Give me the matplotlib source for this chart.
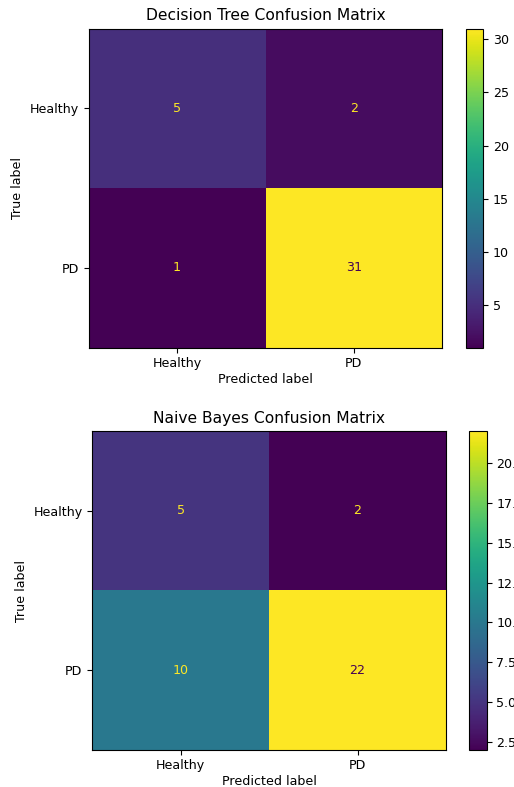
import numpy as np
import matplotlib.pyplot as plt

W, H = 514, 787
FS = 9.1

labels = ["Healthy", "PD"]
dt_matrix = [[5, 2], [1, 31]]
nb_matrix = [[5, 2], [10, 22]]
titles = ["Decision Tree Confusion Matrix", "Naive Bayes Confusion Matrix"]


def px_box(left, top, right, bottom):
    return [left / W, 1 - bottom / H, (right - left) / W, (bottom - top) / H]


def draw_cm(fig, cm, title, ax_box, cb_box):
    cm = np.array(cm)
    ax = fig.add_axes(px_box(*ax_box))
    cax = fig.add_axes(px_box(*cb_box))
    cmap = plt.get_cmap("viridis")
    im = ax.imshow(cm, cmap=cmap, aspect="auto", interpolation="nearest")
    thresh = (cm.max() + cm.min()) / 2.0
    for i in range(cm.shape[0]):
        for j in range(cm.shape[1]):
            color = cmap(0.0) if cm[i, j] >= thresh else cmap(1.0)
            ax.text(j, i, str(cm[i, j]), ha="center", va="center",
                    color=color, fontsize=FS)
    ax.set_xticks(range(len(labels)))
    ax.set_yticks(range(len(labels)))
    ax.set_xticklabels(labels, fontsize=FS)
    ax.set_yticklabels(labels, fontsize=FS)
    ax.tick_params(axis="x", pad=3)
    ax.set_xlabel("Predicted label", fontsize=FS, labelpad=2)
    ax.set_ylabel("True label", fontsize=FS)
    ax.set_title(title, fontsize=11.2)
    cb = fig.colorbar(im, cax=cax)
    cb.ax.tick_params(labelsize=FS)
    return ax


fig = plt.figure(figsize=(W / 100, H / 100), dpi=100)
draw_cm(fig, dt_matrix, titles[0], (88.7, 28.7, 442, 347.7), (466, 28.7, 483, 347.5))
draw_cm(fig, nb_matrix, titles[1], (92.3, 431, 446, 750), (469.3, 431, 486.7, 750))
fig.savefig("out.png", dpi=100)
